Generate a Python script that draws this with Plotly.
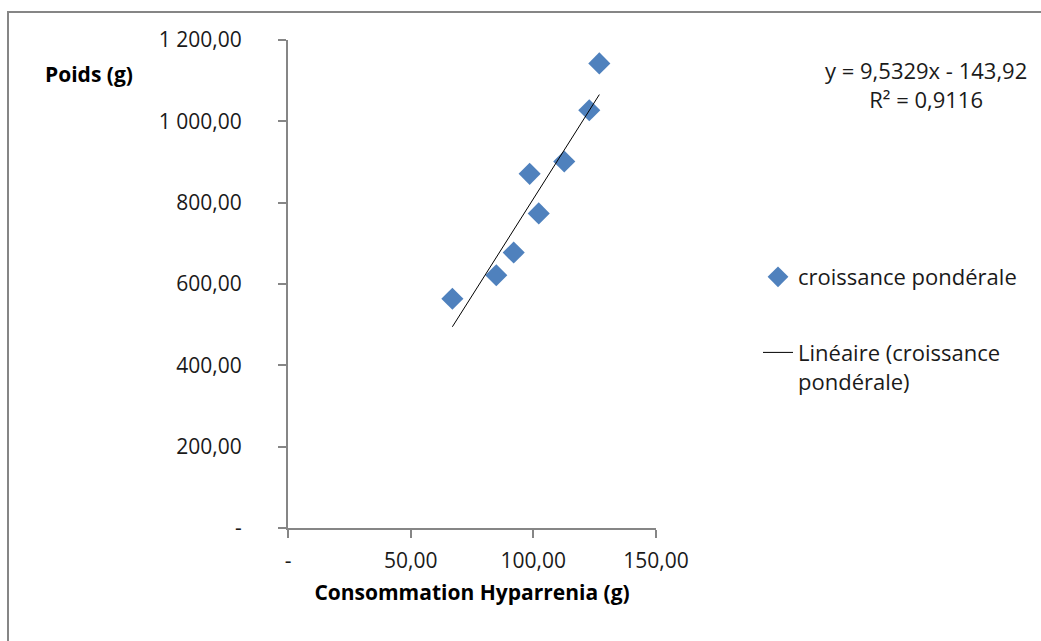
import plotly.graph_objects as go

# Data
consommation = [67.0, 84.9, 92.0, 98.5, 102.2, 112.6, 122.8, 126.9]
poids = [563.7, 621.5, 677.3, 870.9, 773.6, 901.2, 1027.2, 1142.5]
slope = 9.5329
intercept = -143.92
r2 = 0.9116

x_tickvals = [0, 50, 100, 150]
x_ticktext = ["-", "50,00", "100,00", "150,00"]
y_tickvals = [0, 200, 400, 600, 800, 1000, 1200]
y_ticktext = ["-", "200,00", "400,00", "600,00", "800,00", "1 000,00", "1 200,00"]

W, H = 1041, 641
L, R, T, B = 288, 385, 40, 113
pw = W - L - R
ph = H - T - B

def px_x(p):
    return (p - L) / pw

def px_y(p):
    return 1 - (p - T) / ph

FONT = "Open Sans"
TXT = "#1a1a1a"
AX = "#868686"

x_fit = [min(consommation), max(consommation)]
y_fit = [slope * v + intercept for v in x_fit]

fig = go.Figure()
fig.add_trace(go.Scatter(
    x=consommation, y=poids, mode="markers", name="croissance pondérale",
    legendgroup="a",
    marker=dict(symbol="diamond", size=17, color="#4F81BD"),
))
fig.add_trace(go.Scatter(
    x=x_fit, y=y_fit, mode="lines", name="Linéaire (croissance<br>pondérale)",
    legendgroup="b",
    line=dict(color="black", width=1),
))

fig.update_layout(
    width=W, height=H,
    margin=dict(l=L, r=R, t=T, b=B, autoexpand=False),
    paper_bgcolor="white", plot_bgcolor="white",
    font=dict(family=FONT, size=21, color=TXT),
    xaxis=dict(
        range=[0, 150], tickvals=x_tickvals, ticktext=x_ticktext,
        showgrid=False, zeroline=False, showline=True, linecolor=AX, linewidth=2,
        ticks="outside", ticklen=8, tickcolor=AX, tickwidth=2,
        ticklabelstandoff=5,
        title=dict(text="<b>Consommation Hyparrenia (g)</b>", font=dict(size=21, color="black"), standoff=12),
    ),
    yaxis=dict(
        range=[0, 1200], tickvals=y_tickvals, ticktext=y_ticktext,
        showgrid=False, zeroline=False, showline=True, linecolor=AX, linewidth=2,
        ticks="outside", ticklen=8, tickcolor=AX, tickwidth=2,
        ticklabelstandoff=32,
    ),
    legend=dict(
        x=px_x(758), y=px_y(256), xanchor="left", yanchor="top",
        traceorder="grouped", tracegroupgap=44, valign="top",
        font=dict(size=22, color=TXT), bgcolor="rgba(0,0,0,0)",
    ),
    showlegend=True,
)

fig.add_annotation(
    xref="paper", yref="paper", x=px_x(926), y=px_y(84),
    text=f"y = {str(slope).replace('.', ',')}x - {str(-intercept).replace('.', ',')}<br>R² = {str(r2).replace('.', ',')}",
    showarrow=False, align="center", xanchor="center", yanchor="middle",
    font=dict(size=22, color=TXT),
)
fig.add_annotation(
    xref="paper", yref="paper", x=px_x(89), y=px_y(74),
    text="<b>Poids (g)</b>", showarrow=False, xanchor="center", yanchor="middle",
    font=dict(size=21, color="black"),
)
fig.add_shape(
    type="rect", xref="paper", yref="paper",
    x0=px_x(8), x1=px_x(1100), y0=px_y(700), y1=px_y(12),
    line=dict(color=AX, width=2), fillcolor="rgba(0,0,0,0)", layer="below",
)

fig.write_html("out.html")
